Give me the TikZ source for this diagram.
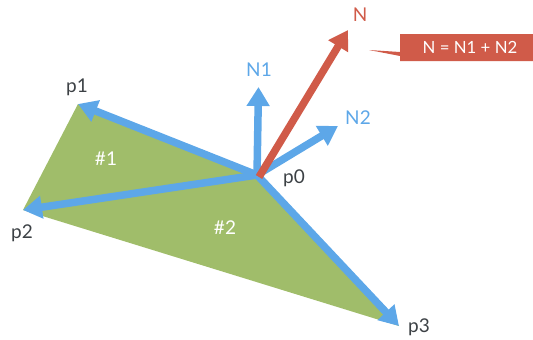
\documentclass[tikz,border=0pt]{standalone}
\usepackage{fontspec}
\setmainfont{Lato}
\usetikzlibrary{arrows.meta}
\definecolor{leaf}{HTML}{A0BD6A}
\definecolor{sky}{HTML}{5DA7E8}
\definecolor{brick}{HTML}{D05B49}
\definecolor{ink}{HTML}{3C4145}
\tikzset{
  lbl/.style={font=\fontsize{19}{22}\selectfont,inner sep=0pt,text=ink},
  bluelbl/.style={lbl,text=sky},
  redlbl/.style={lbl,text=brick},
  whitelbl/.style={lbl,text=white},
  vec/.style={line width=7.5pt,color=sky,-{Triangle[length=19pt,width=22pt]}},
  redvec/.style={vec,color=brick}
}
\begin{document}
\begin{tikzpicture}[x=1pt,y=-1pt]
\useasboundingbox (0,0) rectangle (533,340);
\coordinate (p0) at (257,175);
\coordinate (p1) at (78,104);
\coordinate (p2) at (23,210);
\coordinate (p3) at (399,326);
\coordinate (n1) at (258.5,87);
\coordinate (n2) at (338,126);
\coordinate (n) at (348,30);
\coordinate (r0) at (259,177);
\fill[leaf] (p0) -- (p1) -- (p2) -- (p3) -- cycle;
\draw[vec] (p0) -- (p1);
\draw[vec] (p0) -- (p2);
\draw[vec] (p0) -- (p3);
\draw[vec] (p0) -- (n1);
\draw[vec] (p0) -- (n2);
\draw[redvec] (r0) -- (n);
\fill[brick] (369,50) -- (400,52) -- (400,34) -- (533,34) -- (533,61) -- (400,61) -- (400,56) -- cycle;
\node[whitelbl,font=\fontsize{16.8}{20}\selectfont] (eq) at (470,47.5) {N = N1 + N2};
\node[lbl] (l1) at (77,87) {p1};
\node[lbl] (l2) at (22,233) {p2};
\node[lbl] (l0) at (294,178) {p0};
\node[lbl] (l3) at (419,327) {p3};
\node[whitelbl] (t1) at (106,159) {\#1};
\node[whitelbl] (t2) at (225,228) {\#2};
\node[bluelbl] (ln1) at (259,70) {N1};
\node[bluelbl] (ln2) at (358,118) {N2};
\node[redlbl] (ln) at (360,15) {N};
\end{tikzpicture}
\end{document}
